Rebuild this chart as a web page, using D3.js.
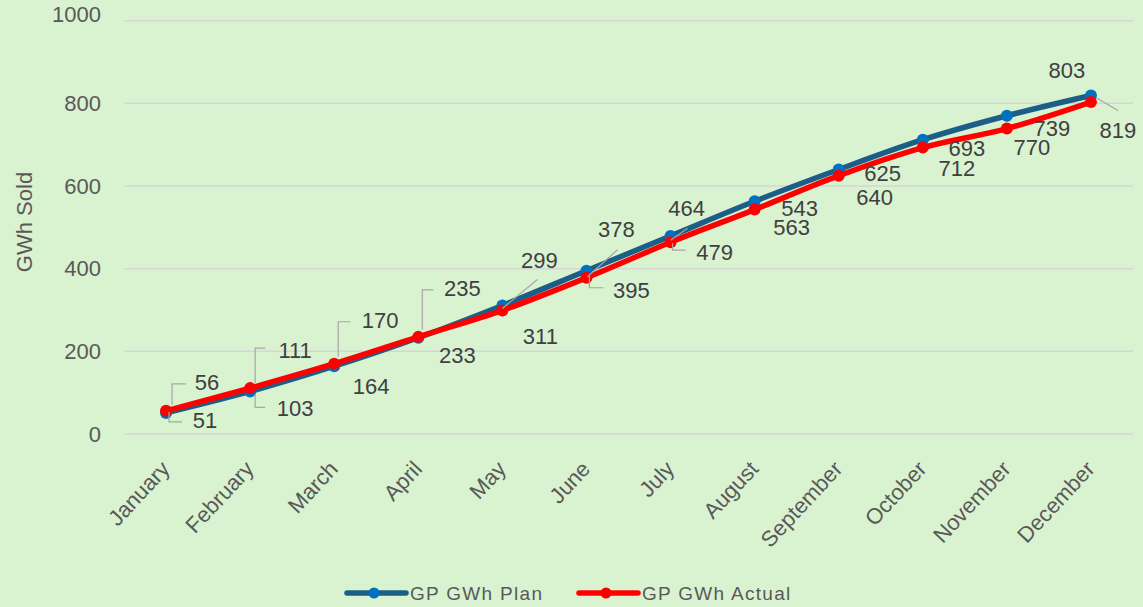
<!DOCTYPE html>
<html>
<head>
<meta charset="utf-8">
<script src="https://cdn.jsdelivr.net/npm/d3@7"></script>
<style>
  html, body { margin: 0; padding: 0; background: #D9F2D0; }
  svg { display: block; font-family: "Liberation Sans", Arial, sans-serif; }
</style>
</head>
<body>
<div id="chart"></div>
<script>
// ---- Data ----
const months = ["January","February","March","April","May","June","July","August","September","October","November","December"];
const planValues = [51, 103, 164, 233, 311, 395, 479, 563, 640, 712, 770, 819];
const actualValues = [56, 111, 170, 235, 299, 378, 464, 543, 625, 693, 739, 803];
const yTicks = [0, 200, 400, 600, 800, 1000];
const seriesNames = ["GP GWh Plan", "GP GWh Actual"];

// ---- Label layout (pixel offsets of label centre from its point) ----
const actualLabelOffsets = [[41,-29],[45,-38],[46,-44],[44,-49],[37,-50],[30,-49],[16,-34],[45,-1],[44,-3],[44,0],[45,0],[-24,-32]];
const planLabelOffsets   = [[39,7],[45,17],[37,20],[39,17],[38,31],[45,19],[44,16],[37,26],[36,28],[34,28],[25,31],[27,35]];
const actualLeaders = [
  [[6,-6],[6,-27],[20,-27]],
  [[5,-5],[5,-40],[15,-40]],
  [[4,-7],[4,-42],[16,-42]],
  [[4,-7],[4,-47],[15,-47]],
  [[0,-2],[35,-31]],
  [[1,-1],[31,-28]],
  [[0,-2],[17,-14]],
  null, null, null, null, null
];
const planLeaders = [
  [[3,-1],[3,9],[16,9]],
  [[5,3],[5,16],[15,16]],
  null, null, null,
  [[3,5],[3,17],[17,17]],
  [[2,7],[2,14],[15,14]],
  null, null, null, null,
  [[5,2],[27,15]]
];

const W = 1143, H = 607;
const plot = { left: 124, right: 1133, top: 20.7, bottom: 434 };
const textColor = "#595959";
const planLine = "#1B5E87", planMarker = "#0070C0";
const actualColor = "#FF0000";

const svg = d3.select("#chart").append("svg").attr("width", W).attr("height", H);
svg.append("rect").attr("width", W).attr("height", H).attr("fill", "#D9F2D0");

const x = d3.scaleBand().domain(months).range([plot.left, plot.right]);
const cx = m => x(m) + x.bandwidth() / 2;
const y = d3.scaleLinear().domain([0, 1000]).range([plot.bottom, plot.top]);

// gridlines
svg.append("g").selectAll("line").data(yTicks).join("line")
  .attr("x1", plot.left).attr("x2", plot.right)
  .attr("y1", d => y(d)).attr("y2", d => y(d))
  .attr("stroke", "#D6D6D6").attr("stroke-width", 1.5);

// y axis labels
const yAxis = d3.axisLeft(y).tickValues(yTicks).tickFormat(d3.format("d")).tickSize(0).tickPadding(0);
const gy = svg.append("g").attr("transform", `translate(${plot.left - 23},0)`).call(yAxis);
gy.select(".domain").remove();
gy.selectAll("text").attr("font-size", 22).attr("fill", textColor)
  .attr("font-family", "'Liberation Sans', Arial, sans-serif")
  .attr("dy", d => d === 1000 ? "0.05em" : "0.32em");

// y title
svg.append("text").attr("transform", `translate(32,222) rotate(-90)`)
  .attr("text-anchor", "middle").attr("font-size", 22).attr("fill", textColor)
  .text("GWh Sold");

// x labels
const xAxis = d3.axisBottom(x).tickSize(0).tickPadding(0);
const gx = svg.append("g").attr("transform", `translate(0,${plot.bottom})`).call(xAxis);
gx.select(".domain").remove();
gx.selectAll(".tick text")
  .attr("font-size", 22).attr("fill", textColor)
  .attr("font-family", "'Liberation Sans', Arial, sans-serif")
  .attr("text-anchor", "end")
  .attr("y", 0).attr("dy", 0)
  .attr("transform", "translate(5,36) rotate(-47)");

// lines
const lineGen = d3.line().x((d, i) => cx(months[i])).y(d => y(d)).curve(d3.curveCatmullRom.alpha(0.5));

svg.append("path").datum(planValues).attr("d", lineGen)
  .attr("fill", "none").attr("stroke", planLine).attr("stroke-width", 5.5)
  .attr("stroke-linecap", "round").attr("stroke-linejoin", "round");
svg.append("g").selectAll("circle").data(planValues).join("circle")
  .attr("cx", (d, i) => cx(months[i])).attr("cy", d => y(d)).attr("r", 6)
  .attr("fill", planMarker);

svg.append("path").datum(actualValues).attr("d", lineGen)
  .attr("fill", "none").attr("stroke", actualColor).attr("stroke-width", 5.5)
  .attr("stroke-linecap", "round").attr("stroke-linejoin", "round");
svg.append("g").selectAll("circle").data(actualValues).join("circle")
  .attr("cx", (d, i) => cx(months[i])).attr("cy", d => y(d)).attr("r", 6)
  .attr("fill", actualColor);

// leader lines + data labels
function drawLabels(values, offsets, leaders) {
  const g = svg.append("g");
  values.forEach((v, i) => {
    const px = cx(months[i]), py = y(v);
    if (leaders[i]) {
      g.append("polyline")
        .attr("points", leaders[i].map(p => `${px + p[0]},${py + p[1]}`).join(" "))
        .attr("fill", "none").attr("stroke", "#A6A6A6").attr("stroke-width", 1.2);
    }
    g.append("text")
      .attr("x", px + offsets[i][0]).attr("y", py + offsets[i][1])
      .attr("dy", "0.36em").attr("text-anchor", "middle")
      .attr("font-size", 22).attr("fill", "#404040")
      .text(v);
  });
}
drawLabels(actualValues, actualLabelOffsets, actualLeaders);
drawLabels(planValues, planLabelOffsets, planLeaders);

// legend
const legend = [
  { name: seriesNames[0], line: planLine, marker: planMarker, x0: 347 },
  { name: seriesNames[1], line: actualColor, marker: actualColor, x0: 579 }
];
const lg = svg.append("g");
legend.forEach(l => {
  lg.append("line").attr("x1", l.x0).attr("x2", l.x0 + 59).attr("y1", 593).attr("y2", 593)
    .attr("stroke", l.line).attr("stroke-width", 5.5).attr("stroke-linecap", "round");
  lg.append("circle").attr("cx", l.x0 + 27).attr("cy", 593).attr("r", 5.5).attr("fill", l.marker);
  lg.append("text").attr("x", l.x0 + 63).attr("y", 593).attr("dy", "0.36em")
    .attr("font-size", 19).attr("letter-spacing", 1.3).attr("fill", textColor)
    .text(l.name);
});
</script>
</body>
</html>
